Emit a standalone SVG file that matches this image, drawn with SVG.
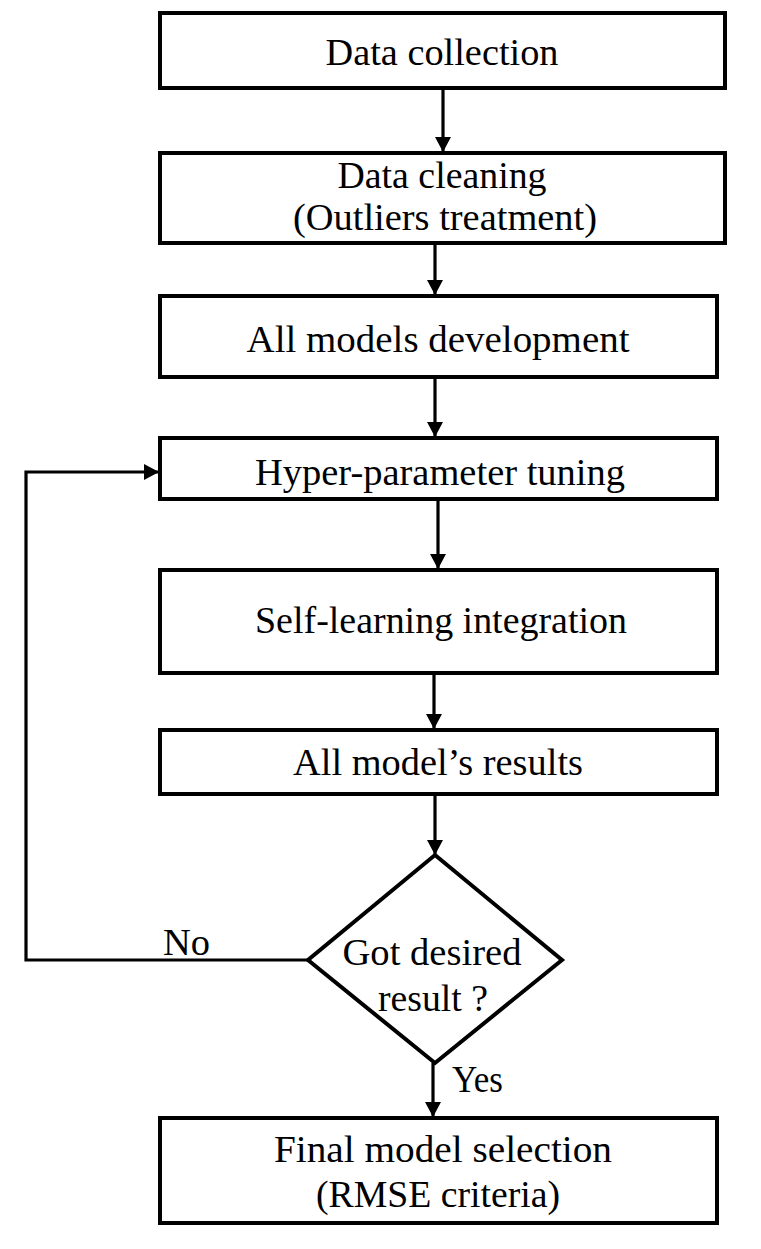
<svg xmlns="http://www.w3.org/2000/svg" width="761" height="1249" viewBox="0 0 761 1249">
<style>
.box{fill:#fff;stroke:#000;stroke-width:4}
.t{font-family:"Liberation Serif","Times New Roman",serif;font-size:37px;fill:#000;text-anchor:middle}
.lbl{font-family:"Liberation Serif","Times New Roman",serif;font-size:37px;fill:#000}
.c{fill:none;stroke:#000;stroke-width:3.2}
</style>
<defs>
<marker id="ah" markerUnits="userSpaceOnUse" markerWidth="18" markerHeight="18" refX="15" refY="8" orient="auto">
<path d="M0,0 L15,8 L0,16 z" fill="#000"/>
</marker>
</defs>
<rect width="761" height="1249" fill="#fff"/>
<g id="connectors">
<line class="c" x1="443" y1="88" x2="443" y2="152" marker-end="url(#ah)"/>
<line class="c" x1="435" y1="243" x2="435" y2="295" marker-end="url(#ah)"/>
<line class="c" x1="435" y1="377" x2="435" y2="437" marker-end="url(#ah)"/>
<line class="c" x1="438" y1="499" x2="438" y2="569" marker-end="url(#ah)"/>
<line class="c" x1="434" y1="673" x2="434" y2="729" marker-end="url(#ah)"/>
<line class="c" x1="435" y1="794" x2="435" y2="855" marker-end="url(#ah)"/>
<line class="c" x1="433" y1="1063" x2="433" y2="1117" marker-end="url(#ah)"/>
<polyline class="c" points="308,960 26,960 26,472 159,472" marker-end="url(#ah)"/>
<text class="lbl" x="163" y="955" textLength="47" lengthAdjust="spacingAndGlyphs">No</text>
<text class="lbl" x="452" y="1092" textLength="51" lengthAdjust="spacingAndGlyphs">Yes</text>
</g>
<g id="n1">
<rect class="box" x="160" y="13" width="565" height="75"/>
<text class="t" x="442" y="65" textLength="233" lengthAdjust="spacingAndGlyphs">Data collection</text>
</g>
<g id="n2">
<rect class="box" x="160" y="153" width="565" height="90"/>
<text class="t" x="442" y="188" textLength="209" lengthAdjust="spacingAndGlyphs">Data cleaning</text>
<text class="t" x="445" y="230" textLength="304" lengthAdjust="spacingAndGlyphs">(Outliers treatment)</text>
</g>
<g id="n3">
<rect class="box" x="160" y="296" width="557" height="81"/>
<text class="t" x="438" y="352" textLength="383" lengthAdjust="spacingAndGlyphs">All models development</text>
</g>
<g id="n4">
<rect class="box" x="160" y="438" width="557" height="61"/>
<text class="t" x="440" y="485" textLength="370" lengthAdjust="spacingAndGlyphs">Hyper-parameter tuning</text>
</g>
<g id="n5">
<rect class="box" x="160" y="570" width="557" height="103"/>
<text class="t" x="441" y="633" textLength="372" lengthAdjust="spacingAndGlyphs">Self-learning  integration</text>
</g>
<g id="n6">
<rect class="box" x="160" y="730" width="557" height="64"/>
<text class="t" x="438" y="775" textLength="290" lengthAdjust="spacingAndGlyphs">All model’s results</text>
</g>
<g id="n7">
<polygon class="box" points="435,855 562,960 435,1063 308,960"/>
<text class="t" x="432" y="965" textLength="179" lengthAdjust="spacingAndGlyphs">Got desired</text>
<text class="t" x="433" y="1011" textLength="110" lengthAdjust="spacingAndGlyphs">result  ?</text>
</g>
<g id="n8">
<rect class="box" x="160" y="1118" width="557" height="105"/>
<text class="t" x="443" y="1162" textLength="338" lengthAdjust="spacingAndGlyphs">Final model selection</text>
<text class="t" x="438" y="1207" textLength="244" lengthAdjust="spacingAndGlyphs">(RMSE criteria)</text>
</g>
</svg>
